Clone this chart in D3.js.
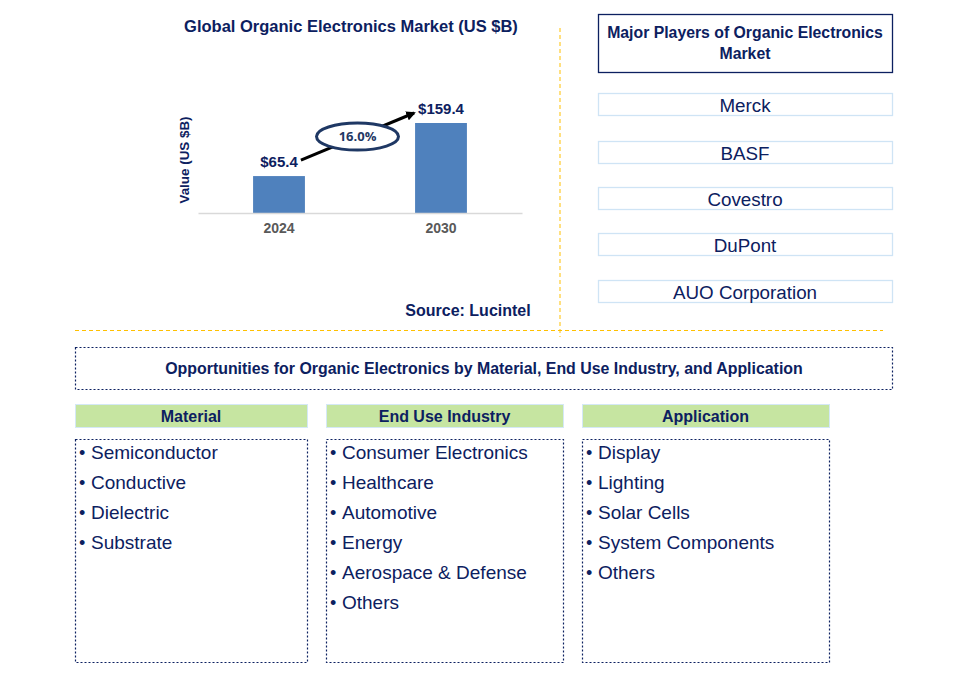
<!DOCTYPE html>
<html>
<head>
<meta charset="utf-8">
<script src="https://cdn.jsdelivr.net/npm/d3@7"></script>
<style>
  html, body { margin: 0; padding: 0; background: #fff; }
  svg { display: block; font-family: "Liberation Sans", Arial, sans-serif; }
</style>
</head>
<body>
<svg id="chart" width="957" height="683"></svg>
<script>
// ---- data ----
const years = ["2024", "2030"];
const marketValues = [65.4, 159.4];
const valueLabels = ["$65.4", "$159.4"];
const cagrLabel = "16.0%";
const chartTitle = "Global Organic Electronics Market (US $B)";
const yAxisTitle = "Value (US $B)";
const sourceText = "Source: Lucintel";
const playersTitle = ["Major Players of Organic Electronics", "Market"];
const players = ["Merck", "BASF", "Covestro", "DuPont", "AUO Corporation"];
const opportunitiesTitle = "Opportunities for Organic Electronics by Material, End Use Industry, and Application";
const segmentHeaders = ["Material", "End Use Industry", "Application"];
const materialItems = ["Semiconductor", "Conductive", "Dielectric", "Substrate"];
const endUseItems = ["Consumer Electronics", "Healthcare", "Automotive", "Energy", "Aerospace & Defense", "Others"];
const applicationItems = ["Display", "Lighting", "Solar Cells", "System Components", "Others"];
const segmentItems = [materialItems, endUseItems, applicationItems];

const NAVY = "#0c2060";
const svg = d3.select("#chart");

svg.append("defs").append("marker")
  .attr("id", "arrow").attr("viewBox", "0 0 10 10")
  .attr("refX", 8).attr("refY", 5)
  .attr("markerWidth", 3.2).attr("markerHeight", 3.2)
  .attr("orient", "auto")
  .append("path").attr("d", "M0,0 L10,5 L0,10 z").attr("fill", "#000");

// ---- bar chart ----
const x = d3.scaleBand().domain(years).range([198, 522]).paddingInner(0.68).paddingOuter(0.34);
const y = d3.scaleLinear().domain([0, 159.4]).range([213, 123]);

svg.append("text").attr("x", 351).attr("y", 32).attr("text-anchor", "middle")
  .attr("font-size", 16.5).attr("font-weight", "bold").attr("fill", NAVY).text(chartTitle);

svg.append("g").selectAll("rect").data(marketValues).join("rect")
  .attr("x", (d, i) => x(years[i])).attr("y", d => y(d))
  .attr("width", x.bandwidth()).attr("height", d => y(0) - y(d))
  .attr("fill", "#4f81bd");

const xAxis = svg.append("g").attr("transform", "translate(0,213)")
  .call(d3.axisBottom(x).tickSize(0).tickPadding(10));
xAxis.select(".domain").attr("stroke", "#d9d9d9").attr("stroke-width", 1.5);
xAxis.selectAll("text").attr("font-size", 14).attr("font-weight", "bold")
  .attr("fill", "#595959").attr("font-family", "Liberation Sans, Arial, sans-serif");

svg.append("text").attr("transform", "translate(189,160) rotate(-90)")
  .attr("text-anchor", "middle").attr("font-size", 13.4).attr("font-weight", "bold")
  .attr("fill", NAVY).text(yAxisTitle);

svg.append("g").selectAll("text").data(marketValues).join("text")
  .attr("x", (d, i) => x(years[i]) + x.bandwidth() / 2).attr("y", d => y(d) - 9.5)
  .attr("text-anchor", "middle").attr("font-size", 15).attr("font-weight", "bold")
  .attr("fill", NAVY).text((d, i) => valueLabels[i]);

// arrow & CAGR ellipse
const ax1 = x(years[0]) + x.bandwidth() - 4, ay1 = y(marketValues[0]) - 16;
const ax2 = x(years[1]) - 1, ay2 = y(marketValues[1]) - 10;
svg.append("line").attr("x1", ax1).attr("y1", ay1).attr("x2", ax2).attr("y2", ay2)
  .attr("stroke", "#000").attr("stroke-width", 3).attr("marker-end", "url(#arrow)");
const ecx = (ax1 + ax2) / 2, ecy = (ay1 + ay2) / 2;
svg.append("ellipse").attr("cx", ecx).attr("cy", ecy).attr("rx", 41).attr("ry", 13.5)
  .attr("fill", "#fff").attr("stroke", "#1f3864").attr("stroke-width", 3);
svg.append("text").attr("x", ecx).attr("y", ecy + 4.5).attr("text-anchor", "middle")
  .attr("font-size", 13).attr("font-weight", "bold").attr("fill", "#1f3864")
  .attr("font-family", "'Open Sans', sans-serif").text(cagrLabel);

svg.append("text").attr("x", 468).attr("y", 316).attr("text-anchor", "middle")
  .attr("font-size", 16).attr("font-weight", "bold").attr("fill", NAVY).text(sourceText);

// separators
svg.append("line").attr("x1", 560).attr("x2", 560).attr("y1", 28).attr("y2", 337)
  .attr("stroke", "#ffc000").attr("stroke-width", 1).attr("stroke-dasharray", "4,3");
svg.append("line").attr("x1", 75).attr("x2", 883).attr("y1", 330.5).attr("y2", 330.5)
  .attr("stroke", "#ffc000").attr("stroke-width", 1).attr("stroke-dasharray", "4,3");

// ---- major players ----
svg.append("rect").attr("x", 598.5).attr("y", 14.5).attr("width", 294).attr("height", 58)
  .attr("fill", "#fff").attr("stroke", NAVY).attr("stroke-width", 1.3);
svg.append("g").selectAll("text").data(playersTitle).join("text")
  .attr("x", 745).attr("y", (d, i) => 37.5 + i * 21).attr("text-anchor", "middle")
  .attr("font-size", 15.8).attr("font-weight", "bold").attr("fill", NAVY).text(d => d);

const playerTops = [93, 141, 187, 233, 280];
const pg = svg.append("g").selectAll("g").data(players).join("g");
pg.append("rect").attr("x", 598.5).attr("y", (d, i) => playerTops[i] + 0.5)
  .attr("width", 294).attr("height", 22)
  .attr("fill", "#fff").attr("stroke", "#cfe4f5").attr("stroke-width", 1.3);
pg.append("text").attr("x", 745).attr("y", (d, i) => playerTops[i] + 18.5)
  .attr("text-anchor", "middle").attr("font-size", 18.8).attr("fill", NAVY).text(d => d);

// ---- opportunities ----
svg.append("rect").attr("x", 75.5).attr("y", 347.5).attr("width", 817).attr("height", 42)
  .attr("fill", "none").attr("stroke", NAVY).attr("stroke-width", 1.2).attr("stroke-dasharray", "2,2");
svg.append("text").attr("x", 484).attr("y", 373.5).attr("text-anchor", "middle")
  .attr("font-size", 15.9).attr("font-weight", "bold").attr("fill", NAVY).text(opportunitiesTitle);

const colX = [75, 326, 582];
const colW = [232, 237, 247];
const cols = svg.append("g").selectAll("g").data(segmentHeaders).join("g");
cols.append("rect").attr("x", (d, i) => colX[i] + 0.5).attr("y", 404.5)
  .attr("width", (d, i) => colW[i]).attr("height", 23)
  .attr("fill", "#c6e5a1").attr("stroke", "#d4e8f6").attr("stroke-width", 1);
cols.append("text").attr("x", (d, i) => colX[i] + colW[i] / 2).attr("y", 421.5)
  .attr("text-anchor", "middle").attr("font-size", 16).attr("font-weight", "bold")
  .attr("fill", NAVY).text(d => d);
cols.append("rect").attr("x", (d, i) => colX[i] + 0.5).attr("y", 439.5)
  .attr("width", (d, i) => colW[i]).attr("height", 223)
  .attr("fill", "none").attr("stroke", NAVY).attr("stroke-width", 1.2).attr("stroke-dasharray", "2,2");
cols.each(function(d, i) {
  const g = d3.select(this);
  const items = segmentItems[i];
  g.selectAll("text.bullet").data(items).join("text").attr("class", "bullet")
    .attr("x", colX[i] + 4).attr("y", (t, j) => 458.5 + j * 30)
    .attr("font-size", 18).attr("fill", NAVY).text("•");
  g.selectAll("text.item").data(items).join("text").attr("class", "item")
    .attr("x", colX[i] + 16).attr("y", (t, j) => 458.5 + j * 30)
    .attr("font-size", 19).attr("fill", NAVY).text(t => t);
});
</script>
</body>
</html>
